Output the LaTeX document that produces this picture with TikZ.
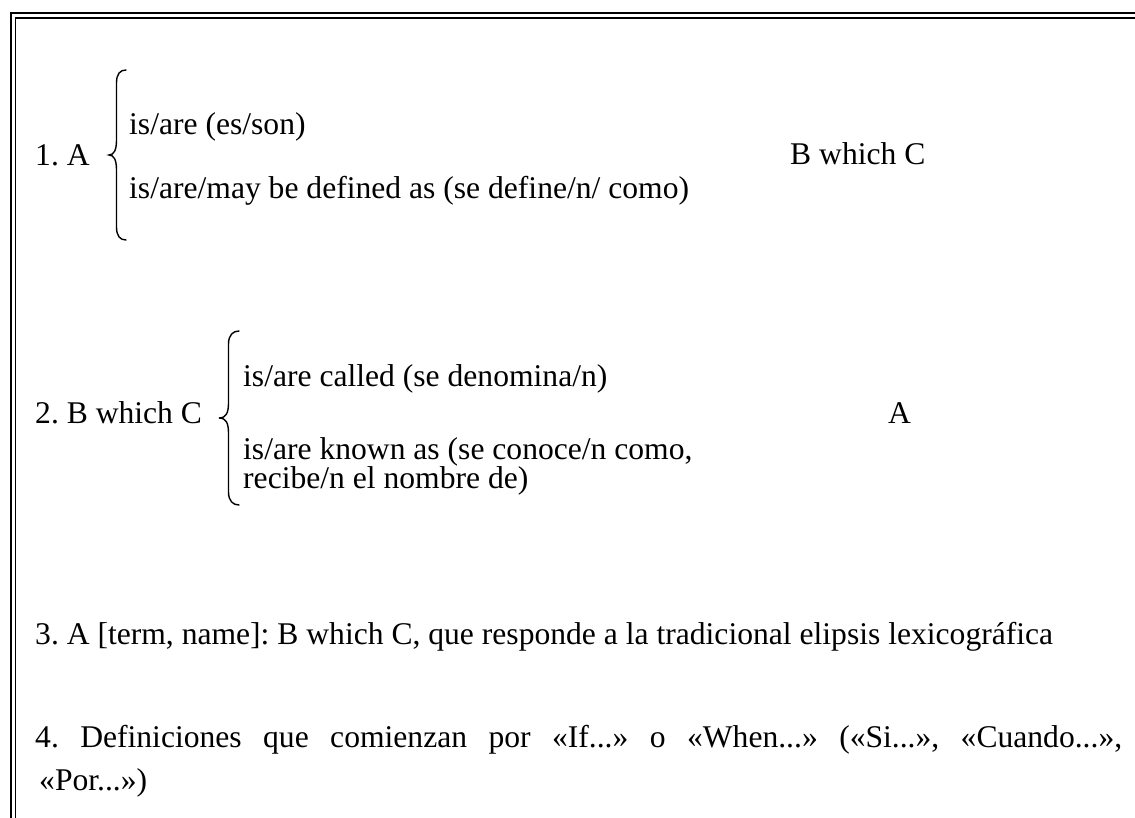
\documentclass[tikz,border=0pt]{standalone}
\usepackage{fontspec}
\setmainfont{Liberation Serif}
\frenchspacing
\begin{document}
\begin{tikzpicture}[x=1pt,y=-1pt,
  txt/.style={anchor=base west,inner sep=0pt,font=\fontsize{31.6}{43}\selectfont},
  bracestroke/.style={line width=1.4pt,line cap=round},
  outerframe/.style={line width=2.3pt},
  innerframe/.style={line width=1.7pt}]
\useasboundingbox (0,0) rectangle (1135,818);
% frame (left and top only visible)
\coordinate (oa) at (11.2,830);
\coordinate (ob) at (11.2,13.2);
\coordinate (oc) at (1140,13.2);
\coordinate (ia) at (15.5,830);
\coordinate (ib) at (15.5,17.7);
\coordinate (ic) at (1140,17.7);
\draw[outerframe] (oa) -- (ob) -- (oc);
\draw[innerframe] (ia) -- (ib) -- (ic);

% Section 1
\node[txt] (n1) at (35,166) {1. A};
\node[txt] (n1a) at (129,135) {is/are (es/son)};
\node[txt] (n1b) at (129,199) {is/are/may be defined as (se define/n/ como)};
\node[txt] (n1c) at (790,165) {B which C};
\draw[bracestroke] (126,70) .. controls (120,70) and (116.5,74) .. (116.5,83)
  -- (116.5,140) .. controls (116.5,150) and (114,155) .. (109,155)
  .. controls (114,155) and (116.5,160) .. (116.5,170)
  -- (116.5,227) .. controls (116.5,236) and (120,240) .. (126,240);

% Section 2
\node[txt] (n2) at (35,423) {2. B which C};
\node[txt] (n2a) at (243,386) {is/are called (se denomina/n)};
\node[txt] (n2b) at (243,459) {is/are known as (se conoce/n como,};
\node[txt] (n2c) at (243,488) {recibe/n el nombre de)};
\node[txt] (n2d) at (888,423) {A};
\draw[bracestroke] (239,331) .. controls (233,331) and (228.5,335) .. (228.5,344)
  -- (228.5,403) .. controls (228.5,413) and (226,418) .. (219,418)
  .. controls (226,418) and (228.5,423) .. (228.5,433)
  -- (228.5,492) .. controls (228.5,501) and (233,505) .. (239,505);

% Section 3
\node[txt] (n3) at (35,644) {3. A [term, name]: B which C, que responde a la tradicional elipsis lexicográfica};

% Section 4
\node[txt] (n4) at (35,747) {\parbox[t]{1087pt}{\noindent\hangindent=4pt\hangafter=1 4. Definiciones que comienzan por «If...» o «When...» («Si...», «Cuando...»,\linebreak «Por...»)\par}};
\end{tikzpicture}
\end{document}
